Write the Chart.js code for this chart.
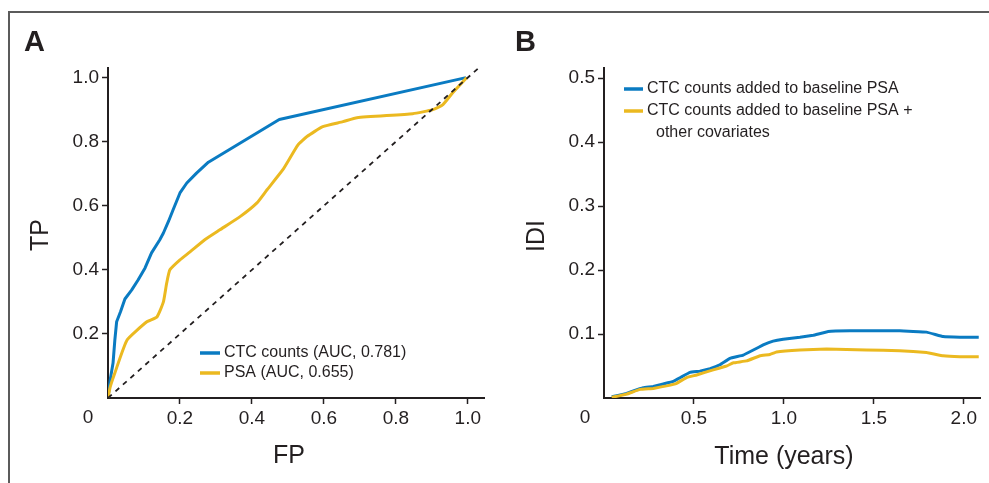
<!DOCTYPE html>
<html>
<head>
<meta charset="utf-8">
<script src="https://cdn.jsdelivr.net/npm/chart.js@4"></script>
<style>
  body { margin: 0; background: #fff; }
  #wrap { position: relative; width: 989px; height: 483px; overflow: hidden; }
  #frame { position: absolute; left: 8px; top: 11px; width: 990px; height: 480px;
           border-top: 2px solid #5b5b5b; border-left: 2px solid #5b5b5b; }
  canvas { position: absolute; top: 0; }
  #chartA { left: 0; }
  #chartB { left: 495px; }
</style>
</head>
<body>
<div id="wrap">
  <div id="frame"></div>
  <canvas id="chartA" width="495" height="483"></canvas>
  <canvas id="chartB" width="494" height="483"></canvas>
</div>
<script>
// A: ROC 곡선 (FP / TP)
const fpCtc = [0, 0.006, 0.014, 0.019, 0.024, 0.035, 0.047, 0.066, 0.084, 0.103, 0.121, 0.144, 0.154, 0.168, 0.181, 0.2, 0.219, 0.246, 0.279, 0.476, 0.995];
const tpCtc = [0, 0.056, 0.109, 0.181, 0.238, 0.27, 0.309, 0.3375, 0.369, 0.406, 0.453, 0.494, 0.515, 0.551, 0.5875, 0.64, 0.671, 0.702, 0.736, 0.869, 1.0];
const fpPsa = [0, 0.006, 0.019, 0.053, 0.108, 0.136, 0.154, 0.163, 0.172, 0.2, 0.228, 0.269, 0.311, 0.367, 0.414, 0.442, 0.486, 0.528, 0.553, 0.597, 0.653, 0.692, 0.847, 0.903, 0.931, 0.958, 0.997];
const tpPsa = [0, 0.034, 0.078, 0.181, 0.238, 0.253, 0.3, 0.358, 0.4, 0.431, 0.456, 0.494, 0.525, 0.566, 0.609, 0.65, 0.7125, 0.79, 0.816, 0.847, 0.8625, 0.875, 0.8875, 0.9, 0.916, 0.953, 1.0];
const refLine = [0, 1.03];
const rocTicks = [0.2, 0.4, 0.6, 0.8, 1.0];
const rocLabels = ['CTC counts (AUC, 0.781)', 'PSA (AUC, 0.655)'];

// B: IDI 시간 곡선
const timeCtc = [0.043, 0.126, 0.163, 0.218, 0.274, 0.33, 0.385, 0.431, 0.478, 0.533, 0.589, 0.644, 0.70, 0.774, 0.83, 0.885, 0.94, 0.996, 1.089, 1.163, 1.246, 1.367, 1.644, 1.793, 1.885, 1.978, 2.083];
const idiCtc = [0.002, 0.007, 0.011, 0.016, 0.018, 0.022, 0.026, 0.033, 0.040, 0.042, 0.046, 0.052, 0.062, 0.067, 0.075, 0.083, 0.089, 0.092, 0.095, 0.098, 0.104, 0.105, 0.105, 0.103, 0.096, 0.095, 0.095];
const timeCov = [0.043, 0.126, 0.2, 0.274, 0.348, 0.404, 0.459, 0.515, 0.607, 0.681, 0.719, 0.793, 0.867, 0.922, 0.959, 1.089, 1.237, 1.459, 1.644, 1.793, 1.885, 1.978, 2.083];
const idiCov = [0.001, 0.006, 0.0135, 0.015, 0.019, 0.023, 0.032, 0.036, 0.044, 0.050, 0.055, 0.058, 0.066, 0.068, 0.072, 0.075, 0.0766, 0.075, 0.074, 0.071, 0.066, 0.0646, 0.0646];
const timeTicks = [0.5, 1.0, 1.5, 2.0];
const idiTicks = [0.1, 0.2, 0.3, 0.4, 0.5];
const idiLabels = ['CTC counts added to baseline PSA', ['CTC counts added to baseline PSA +', 'other covariates']];

const BLUE = '#0a7bc2';
const GOLD = '#ebb920';
const INK = '#231f20';
const FONT = "'Liberation Sans', Arial, sans-serif";

Chart.defaults.font.family = FONT;
Chart.defaults.color = INK;

function pts(xs, ys) {
  return xs.map((x, i) => ({ x: x, y: ys[i] }));
}

// 글자, 범례 그리기 플러그인
const textPlugin = {
  id: 'texts',
  afterDraw(chart, args, opts) {
    const ctx = chart.ctx;
    ctx.save();
    (opts.items || []).forEach(t => {
      ctx.save();
      ctx.font = t.font;
      ctx.fillStyle = INK;
      ctx.textAlign = t.align || 'center';
      ctx.textBaseline = t.baseline || 'middle';
      ctx.translate(t.x, t.y);
      if (t.rotate) ctx.rotate(t.rotate);
      ctx.fillText(t.text, 0, 0);
      ctx.restore();
    });
    const lg = opts.legend;
    if (lg) {
      let y = lg.y;
      ctx.font = '16px ' + FONT;
      ctx.textAlign = 'left';
      ctx.textBaseline = 'middle';
      chart.data.datasets.forEach(ds => {
        if (!ds.label) return;
        ctx.strokeStyle = ds.borderColor;
        ctx.lineWidth = 3.5;
        ctx.beginPath();
        ctx.moveTo(lg.x, y);
        ctx.lineTo(lg.x + lg.sample, y);
        ctx.stroke();
        const lines = Array.isArray(ds.label) ? ds.label : [ds.label];
        lines.forEach((s, i) => {
          ctx.fillStyle = INK;
          ctx.fillText(s, lg.x + lg.sample + 4 + (i > 0 ? 9 : 0), y);
          y += lg.lineHeight;
        });
      });
    }
    ctx.restore();
  }
};

function axis(min, max, tickVals, size) {
  return {
    type: 'linear', min: min, max: max,
    afterBuildTicks: a => { a.ticks = tickVals.map(v => ({ value: v })); },
    afterFit: a => { if (a.isHorizontal()) a.height = size; else a.width = size; },
    ticks: { callback: v => v.toFixed(1), font: { size: 19 }, color: INK, padding: 3, autoSkip: false, maxRotation: 0 },
    grid: { drawOnChartArea: false, tickLength: 6, tickColor: INK, tickWidth: 1.5 },
    border: { color: INK, width: 2 }
  };
}

var ctxA = document.getElementById('chartA').getContext('2d');
var chartA = new Chart(ctxA, {
  type: 'line',
  data: {
    datasets: [
      { label: rocLabels[0], data: pts(fpCtc, tpCtc), borderColor: BLUE, borderWidth: 3, pointRadius: 0, tension: 0, borderJoinStyle: 'round', order: 2 },
      { label: rocLabels[1], data: pts(fpPsa, tpPsa), borderColor: GOLD, borderWidth: 3, pointRadius: 0, tension: 0.15, order: 1 },
      { data: pts(refLine, refLine), borderColor: INK, borderWidth: 1.8, borderDash: [5, 5], pointRadius: 0, order: 0 }
    ]
  },
  options: {
    responsive: false,
    animation: false,
    layout: { padding: { top: 68, right: 11, left: 0, bottom: 0 } },
    plugins: {
      legend: { display: false },
      tooltip: { enabled: false },
      texts: {
        items: [
          { text: 'A', x: 24, y: 51, font: 'bold 29px ' + FONT, align: 'left', baseline: 'alphabetic' },
          { text: 'TP', x: 41, y: 235, font: '25px ' + FONT, rotate: -Math.PI / 2 },
          { text: 'FP', x: 289, y: 456, font: '25px ' + FONT },
          { text: '0', x: 88, y: 418, font: '19px ' + FONT }
        ],
        legend: { x: 200, y: 353, sample: 20, lineHeight: 20 }
      }
    },
    scales: {
      x: axis(0, 1.045, rocTicks, 85),
      y: axis(0, 1.03, rocTicks, 108)
    }
  },
  plugins: [textPlugin]
});

var ctxB = document.getElementById('chartB').getContext('2d');
var chartB = new Chart(ctxB, {
  type: 'line',
  data: {
    datasets: [
      { label: idiLabels[0], data: pts(timeCtc, idiCtc), borderColor: BLUE, borderWidth: 3, pointRadius: 0, tension: 0.05, borderJoinStyle: 'round', order: 2 },
      { label: idiLabels[1], data: pts(timeCov, idiCov), borderColor: GOLD, borderWidth: 3, pointRadius: 0, tension: 0.05, borderJoinStyle: 'round', order: 1 }
    ]
  },
  options: {
    responsive: false,
    animation: false,
    layout: { padding: { top: 68, right: 9, left: 0, bottom: 0 } },
    plugins: {
      legend: { display: false },
      tooltip: { enabled: false },
      texts: {
        items: [
          { text: 'B', x: 20, y: 51, font: 'bold 29px ' + FONT, align: 'left', baseline: 'alphabetic' },
          { text: 'IDI', x: 42, y: 236, font: '25px ' + FONT, rotate: -Math.PI / 2 },
          { text: 'Time (years)', x: 289, y: 457, font: '25px ' + FONT },
          { text: '0', x: 90, y: 418, font: '19px ' + FONT }
        ],
        legend: { x: 129, y: 89, sample: 19, lineHeight: 22 }
      }
    },
    scales: {
      x: axis(0, 2.09, timeTicks, 85),
      y: axis(0, 0.516, idiTicks, 109)
    }
  },
  plugins: [textPlugin]
});
</script>
</body>
</html>
